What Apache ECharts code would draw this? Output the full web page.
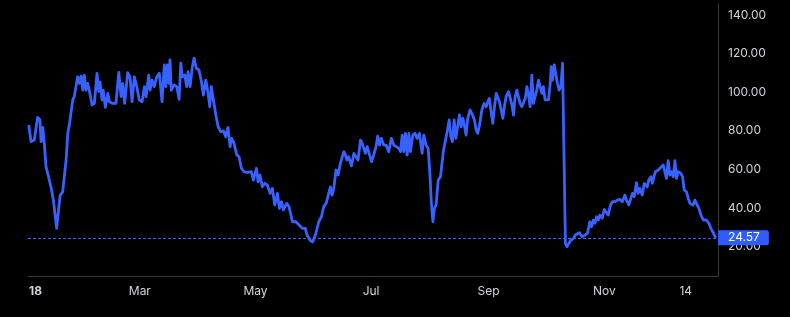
<!DOCTYPE html>
<html><head><meta charset="utf-8">
<script src="https://cdn.jsdelivr.net/npm/echarts@6/dist/echarts.min.js"></script>
<style>html,body{margin:0;padding:0;background:#000}#c{width:790px;height:317px}</style>
</head><body><div id="c"></div>
<script>
// Days since start of period (x) and price (y)
const dayOffsets = [
0.4,1.6,3.3,5.1,6.3,6.9,7.8,8.6,9.5,10.4, 11.2,12.1,13.4,15.1,16.5,17.0,18.3,20.1,21.0,21.8,
23.6,24.4,25.3,26.2,27.1,28.0,28.9,29.7,30.6,31.5, 32.3,33.8,35.0,36.4,37.3,38.0,39.1,39.7,40.8,42.1,
42.9,44.7,46.4,47.9,49.1,50.0,51.0,52.6,53.8,54.9, 56.1,57.4,58.7,60.2,61.4,62.3,63.7,64.4,65.4,66.6,
67.9,69.3,70.7,71.9,
72.7,73.5,74.4,74.9,75.6,77.0,78.5,79.7,80.6,81.4, 82.7,83.7,84.4,85.5,86.7,87.6,88.8,90.2,91.5,92.5,
93.8,95.0,95.9,96.7,97.8,99.1,100.3,101.7,103.1,104.3, 105.5,106.6,107.5,108.7,110.1,111.3,112.6,114.0,115.7,117.8,
118.9,120.5,121.4,122.4,123.6,124.9,126.3,127.7,128.9,130.2, 131.6,132.6,133.7,134.7,136.5,137.7,139.5,141.3,143.0,144.7,
145.5,146.3,147.2,149.0,150.2,151.6,153.4,154.8,156.0,157.3, 158.3,159.5,160.4,161.3,162.5,163.6,164.8,165.7,166.6,167.4,
168.3,169.2,170.6,171.9,172.7,174.1,175.4,176.3,177.2,178.0, 178.9,179.8,181.2,182.4,183.6,184.5,185.4,186.4,187.7,188.9,
190.3,191.7,193.0,194.2,195.6,196.5,197.4,198.2,199.1,200.0, 200.9,201.7,203.0,204.1,205.3,206.5,207.9,208.8,210.0,211.1,
212.0,212.8,213.6,214.4,215.3,216.4,217.6,
219.2,220.1,221.3,222.2,223.1,223.9,224.8,225.7,226.5,227.6, 228.5,229.4,230.2,231.1,232.0,233.2,234.5,235.5,236.4,237.3,
238.2,239.4,240.6,241.7,242.6,243.4,244.3,245.2,246.1,247.0, 247.9,248.7,249.6,250.5,251.3,252.2,253.5,254.4,255.3,256.1,
257.0,257.9,258.7,259.6,260.5,261.4,262.3,263.2,264.0,264.9, 265.8,266.6,267.5,268.4,269.3,270.2,271.1,271.9,272.8,273.7,
274.6,275.5,276.0,276.7,277.6,278.5,279.3,280.2,281.1,282.0, 283.5,284.3,285.1,286.4,287.8,288.7,289.6,290.9,
291.7,292.3,293.8,295.1,296.4,297.3,298.2,299.1,299.9,300.8, 301.7,302.9,304.0,304.9,306.1,307.3,308.3,309.6,311.0,312.2,
313.5,314.9,315.7,317.0,318.0,318.9,319.8,321.0,321.9,322.8, 324.0,325.1,326.0,326.6,327.5,328.6,329.3,330.3,331.0,332.5,
333.9,335.1,336.0,336.8,337.7,338.6,339.5,340.4,341.3,342.1, 343.0,344.4,345.3,346.2,347.4,348.3,349.2,350.0,350.9,351.8,
352.7,353.9,355.0,356.2,357.9,359.2,360.2,361.5,362.7
];
const prices = [
83.0,74.4,75.2,87.0,85.6,74.4,81.8,73.5,61.4,58.0, 57.1,51.0,44.1,29.5,42.4,46.7,48.4,64.9,78.7,83.0,
96.0,97.7,98.5,108.0,104.6,108.4,101.1,108.9,101.1,104.6, 101.1,93.4,94.2,109.8,100.3,105.4,96.0,101.1,92.2,99.4,
95.1,94.2,94.2,110.3,97.7,104.6,94.2,110.1,108.0,95.1, 108.0,102.9,96.0,95.1,102.9,97.7,108.9,101.1,106.3,102.9,
108.0,109.8,95.1,114.1,
102.9,114.1,104.6,116.7,101.1,103.7,102.9,96.3,115.0,108.0, 108.9,102.9,110.6,102.9,113.2,117.6,112.4,111.5,105.4,98.5,
106.3,99.4,92.5,102.9,96.0,88.2,82.1,79.5,80.0,76.9, 81.8,71.8,76.1,73.5,67.5,66.6,60.6,58.8,58.5,58.8,
54.5,60.6,53.6,57.1,51.0,52.8,51.9,47.6,50.2,41.6, 47.6,39.8,43.3,39.0,42.4,40.7,32.9,32.9,31.2,29.5,
28.6,29.5,26.0,23.1,22.5,26.0,32.9,35.5,40.7,42.4, 41.6,51.0,46.7,50.2,59.7,57.1,63.2,64.0,69.2,67.5,
64.9,66.6,61.8,68.3,69.2,64.9,75.2,73.5,74.4,68.3, 71.8,70.9,64.0,67.5,71.8,77.3,72.6,76.1,72.6,72.6,
69.2,76.1,72.6,71.8,70.9,69.2,77.8,69.2,78.7,67.5, 78.7,69.2,77.8,78.7,76.1,78.7,68.3,77.8,72.6,70.9,
58.0,42.4,32.9,39.8,41.6,54.5,56.2,
70.0,74.4,80.4,85.6,76.9,74.4,85.6,76.1,76.9,88.2, 82.1,86.5,83.0,77.8,86.5,90.8,88.2,85.6,80.4,78.7,
83.0,90.8,94.2,92.5,95.1,96.8,89.9,83.9,92.5,99.4, 98.5,95.1,90.8,86.5,92.5,97.7,100.3,100.3,93.4,88.2,
97.7,101.1,97.7,94.2,92.5,92.5,96.8,102.9,98.5,92.5, 108.9,94.2,95.1,101.1,106.3,105.4,99.4,102.9,96.0,96.8,
96.0,104.6,113.2,106.3,114.1,113.2,104.6,101.1,102.9,115.0, 21.7,20.0,20.8,23.4,24.3,26.0,25.1,27.2,
27.7,25.1,26.0,26.9,32.9,30.3,33.8,32.1,35.5,33.8, 36.4,34.7,39.3,38.1,36.4,41.6,43.3,43.3,44.1,44.5,
43.3,46.7,44.1,41.6,45.0,47.6,45.9,53.1,47.6,50.2, 46.7,52.8,53.6,51.0,54.5,56.2,52.8,56.6,58.8,59.7,
61.1,62.3,63.2,55.4,64.5,57.1,58.8,56.2,64.5,55.4, 58.8,58.0,56.2,49.3,48.4,45.0,42.4,43.3,41.6,44.1,
43.3,39.8,36.4,33.8,33.8,32.1,29.5,27.2,24.57
];
const xLabelDays = [4, 59, 120, 181, 243, 304, 347];
const xLabelTexts = ['18', 'Mar', 'May', 'Jul', 'Sep', 'Nov', '14'];
const yTicks = [20, 40, 60, 80, 100, 120, 140];
const lastPrice = 24.57;

const lineColor = '#3862ff';
const axisColor = '#3a3a3a';
const textColor = '#d1d4dc';
const font = 'Inter, "Noto Sans", sans-serif';

const seriesData = dayOffsets.map((d, i) => [d, prices[i]]);

const chart = echarts.init(document.getElementById('c'), null, {renderer: 'canvas'});
chart.setOption({
  backgroundColor: '#000000',
  animation: false,
  grid: {left: 28, right: 72, top: 4, bottom: 41, containLabel: false, outerBoundsMode: 'none'},
  xAxis: {
    type: 'value', min: 0, max: 364,
    axisLine: {show: true, onZero: false, lineStyle: {color: axisColor, width: 1}},
    axisTick: {show: false},
    splitLine: {show: false},
    axisLabel: {
      customValues: xLabelDays,
      margin: 9,
      color: textColor, fontSize: 12, fontFamily: font,
      formatter: function (v) {
        const i = xLabelDays.indexOf(v);
        if (i < 0) return '';
        return i === 0 ? '{b|' + xLabelTexts[i] + '}' : xLabelTexts[i];
      },
      rich: {b: {fontWeight: 'bold', color: textColor, fontSize: 12, fontFamily: font}}
    }
  },
  yAxis: {
    type: 'value', position: 'right', min: 4.8, max: 145.7,
    axisLine: {show: true, onZero: false, lineStyle: {color: axisColor, width: 1}},
    axisTick: {show: false},
    splitLine: {show: false},
    axisLabel: {
      customValues: yTicks,
      margin: 10,
      color: textColor, fontSize: 12, fontFamily: font,
      formatter: v => v.toFixed(2)
    }
  },
  series: [{
    type: 'line',
    data: seriesData,
    showSymbol: false,
    symbol: 'none',
    lineStyle: {color: lineColor, width: 2.8, join: 'round'},
    markLine: {
      silent: true,
      symbol: ['none', 'none'],
      data: [{yAxis: lastPrice}],
      lineStyle: {color: lineColor, width: 1, type: [3, 2]},
      label: {
        show: true, position: 'end', distance: 0,
        formatter: lastPrice.toFixed(2),
        backgroundColor: '#2f5cff', color: '#ffffff',
        fontSize: 12, fontFamily: font,
        padding: [2, 9, 1, 10], borderRadius: [0, 2, 2, 0]
      }
    }
  }]
});
</script></body></html>
